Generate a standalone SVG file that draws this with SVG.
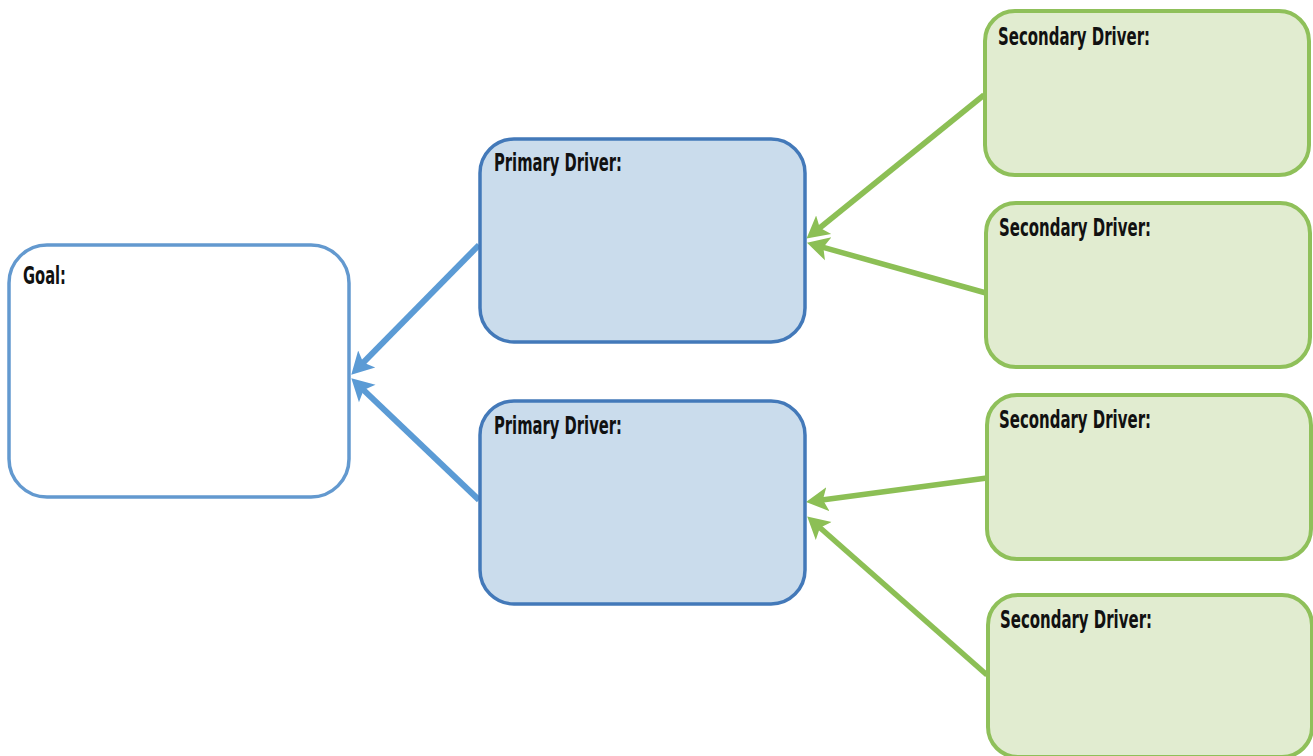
<svg xmlns="http://www.w3.org/2000/svg" width="1313" height="756" viewBox="0 0 1313 756">
<style>
.goal{fill:#ffffff;stroke:#6399cf;stroke-width:3.5}
.prim{fill:#cadcec;stroke:#4379b9;stroke-width:3.5}
.sec{fill:#e1ecd0;stroke:#8fc05a;stroke-width:4}
.lbl{font-family:"DejaVu Sans Condensed","Liberation Sans Narrow","Liberation Sans",sans-serif;font-weight:bold;font-size:25px;fill:#111111}
.cb{stroke:#5b9bd5;stroke-width:6;fill:none}
.cg{stroke:#8cbf55;stroke-width:5.5;fill:none}
</style>
<defs>
<marker id="ab" markerUnits="userSpaceOnUse" markerWidth="26" markerHeight="26" refX="6" refY="12" orient="auto" viewBox="0 0 26 24">
<path d="M0,0 L22,12 L0,24 L5,12 Z" fill="#5b9bd5"/>
</marker>
<marker id="ag" markerUnits="userSpaceOnUse" markerWidth="26" markerHeight="26" refX="6" refY="12" orient="auto" viewBox="0 0 26 24">
<path d="M0,0 L22,12 L0,24 L5,12 Z" fill="#8cbf55"/>
</marker>
</defs>
<rect width="1313" height="756" fill="#ffffff"/>
<g id="connectors">
<line class="cb" x1="479" y1="245" x2="362.5" y2="363.3" marker-end="url(#ab)"/>
<line class="cb" x1="479" y1="500" x2="362.9" y2="389.4" marker-end="url(#ab)"/>
<line class="cg" x1="984" y1="95" x2="819" y2="228.5" marker-end="url(#ag)"/>
<line class="cg" x1="986" y1="293" x2="822.4" y2="247.1" marker-end="url(#ag)"/>
<line class="cg" x1="987" y1="478" x2="821.9" y2="500" marker-end="url(#ag)"/>
<line class="cg" x1="987" y1="675" x2="819.2" y2="527" marker-end="url(#ag)"/>
</g>
<g id="goal">
<rect class="goal" x="9" y="245" width="340" height="252" rx="38"/>
<text class="lbl" x="23" y="284" textLength="43" lengthAdjust="spacingAndGlyphs">Goal:</text>
</g>
<g id="primary1">
<rect class="prim" x="480" y="139" width="325" height="203" rx="34"/>
<text class="lbl" x="494" y="171" textLength="128" lengthAdjust="spacingAndGlyphs">Primary Driver:</text>
</g>
<g id="primary2">
<rect class="prim" x="480" y="401" width="325" height="203" rx="34"/>
<text class="lbl" x="494" y="434" textLength="128" lengthAdjust="spacingAndGlyphs">Primary Driver:</text>
</g>
<g id="secondary1">
<rect class="sec" x="985" y="11" width="324" height="164" rx="30"/>
<text class="lbl" x="998" y="45" textLength="152" lengthAdjust="spacingAndGlyphs">Secondary Driver:</text>
</g>
<g id="secondary2">
<rect class="sec" x="986" y="203" width="324" height="164" rx="30"/>
<text class="lbl" x="999" y="236" textLength="152" lengthAdjust="spacingAndGlyphs">Secondary Driver:</text>
</g>
<g id="secondary3">
<rect class="sec" x="987" y="395" width="324" height="164" rx="30"/>
<text class="lbl" x="999" y="428" textLength="152" lengthAdjust="spacingAndGlyphs">Secondary Driver:</text>
</g>
<g id="secondary4">
<rect class="sec" x="988" y="595" width="324" height="162" rx="30"/>
<text class="lbl" x="1000" y="628" textLength="152" lengthAdjust="spacingAndGlyphs">Secondary Driver:</text>
</g>
</svg>
